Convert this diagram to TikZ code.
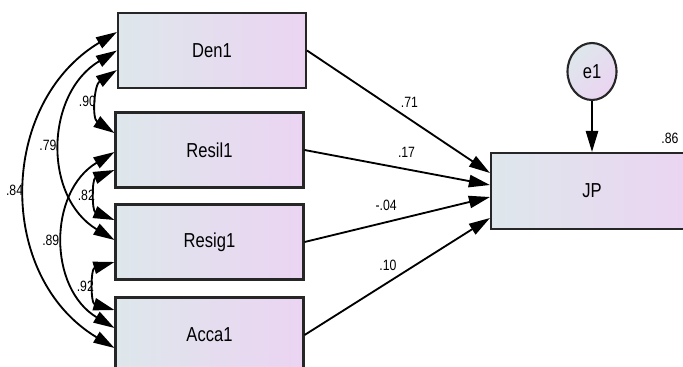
\documentclass[tikz,border=0pt]{standalone}
\usepackage{fontspec}
\setmainfont{Liberation Sans}[FakeStretch=0.82]
\usetikzlibrary{arrows.meta, positioning, shapes.geometric}
\usepackage{xcolor}
\definecolor{boxleft}{HTML}{DEE7EB}
\definecolor{boxright}{HTML}{EBD4F2}
\definecolor{rim}{HTML}{262626}

\begin{document}
\begin{tikzpicture}[x=0.02cm, y=-0.02cm, line width=1.05pt, >={Triangle[length=12pt,width=7pt]}]
    \tikzstyle{observed}=[rectangle, draw=rim, line width=1.2pt, left color=boxleft, right color=boxright, minimum width=3.76cm, minimum height=1.5cm, font=\fontsize{11.5}{13}\selectfont]
    \tikzstyle{error}=[ellipse, draw=rim, line width=1.2pt, top color=boxleft, bottom color=boxright, shading angle=45, minimum width=0.98cm, minimum height=1.14cm, inner sep=0pt, font=\fontsize{11.5}{13}\selectfont]
    \tikzstyle{coef}=[font=\fontsize{8.5}{10}\selectfont, inner sep=1pt]
    \tikzstyle{regress}=[->, draw=black]
    \tikzstyle{cov}=[<->, draw=black]

    \useasboundingbox (0,0) rectangle (683,366);

    % Draw the predictor boxes
    \node[observed] (Den1) at (212,50.5) {Den1};
    \node[observed] (Resil1) at (209.5,150) {Resil1};
    \node[observed] (Resig1) at (209.5,242) {Resig1};
    \node[observed] (Acca1) at (209.5,335) {Acca1};

    % Draw the outcome and its error term
    \node[observed, minimum width=4.04cm, minimum height=1.52cm] (JP) at (592,191) {JP};
    \node[error] (e1) at (592,71.5) {e1};
    \node[coef] (r2) at (670,138) {.86};

    \draw[regress] (e1) -- (JP);

    % Regression weights
    \foreach \src/\dy/\val/\p in {Den1/0.36/.71/0.56, Resil1/0.12/.17/0.55, Resig1/-0.12/-.04/0.44, Acca1/-0.54/.10/0.45}
        \draw[regress] (\src.east) -- node[coef, above=5pt, pos=\p] {\val} ([yshift=\dy cm]JP.west);

    % Correlations between the predictors
    \draw[cov] ([yshift=-0.39cm]Den1.west) to[out=213, in=147, looseness=1.1] node[coef, left] {.90} ([yshift=0.34cm]Resil1.west);
    \draw[cov] ([yshift=-0.40cm]Resil1.west) to[out=202, in=158, looseness=1.25] node[coef, left] {.82} ([yshift=0.44cm]Resig1.west);
    \draw[cov] ([yshift=-0.40cm]Resig1.west) to[out=196, in=164, looseness=1.33] node[coef, left] {.92} ([yshift=0.50cm]Acca1.west);
    \draw[cov] (Den1.west) to[out=211, in=149, looseness=1.13] node[coef, left=1.5pt] {.79} ([yshift=0.04cm]Resig1.west);
    \draw[cov] ([yshift=-0.04cm]Resil1.west) to[out=211, in=149, looseness=1.13] node[coef, left=1.5pt] {.89} ([yshift=0.14cm]Acca1.west);
    \draw[cov] ([yshift=0.37cm]Den1.west) to[out=211, in=149, looseness=1.12] node[coef, left=0.5pt] {.84} ([yshift=-0.26cm]Acca1.west);
\end{tikzpicture}
\end{document}
